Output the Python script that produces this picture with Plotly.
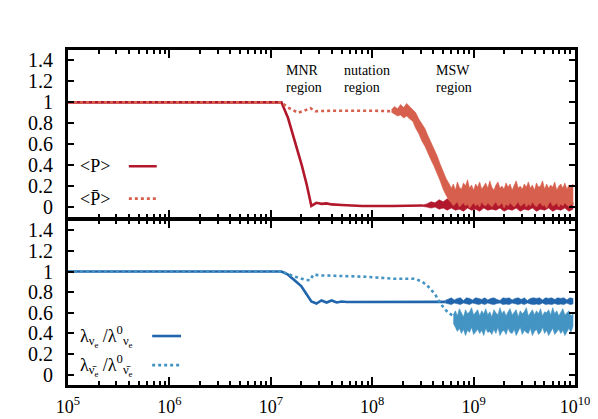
import plotly.graph_objects as go
from plotly.subplots import make_subplots

# x values are log10 of the abscissa
p_x = [5.0, 7.105, 7.17, 7.24, 7.305, 7.355, 7.40, 7.45, 7.50, 7.55, 7.60, 7.70, 7.90, 8.20, 8.50]
p_y = [1.0, 1.0, 0.85, 0.62, 0.40, 0.21, 0.01, 0.04, 0.03, 0.035, 0.025, 0.02, 0.01, 0.01, 0.015]

p_noise_x = [8.50, 8.54, 8.58, 8.62, 8.66, 8.70, 8.74, 8.78, 8.82, 8.86, 8.90, 8.94, 8.98,
             9.02, 9.06, 9.10, 9.14, 9.18, 9.22, 9.26, 9.30, 9.34, 9.38, 9.42, 9.46, 9.50,
             9.54, 9.58, 9.62, 9.66, 9.70, 9.74, 9.78, 9.82, 9.86, 9.90, 9.94, 9.98]
p_noise_hi = [0.02, 0.03, 0.05, 0.04, 0.07, 0.05, 0.08, 0.05, 0.07, 0.04, 0.06, 0.05, 0.07,
              0.04, 0.06, 0.05, 0.07, 0.04, 0.06, 0.05, 0.06, 0.04, 0.07, 0.05, 0.06, 0.04,
              0.06, 0.05, 0.07, 0.04, 0.06, 0.05, 0.06, 0.04, 0.07, 0.05, 0.06, 0.05]
p_noise_lo = [0.005, 0.0, -0.01, 0.0, -0.02, -0.01, -0.03, -0.01, -0.03, -0.02, -0.04, -0.01, -0.03,
              -0.02, -0.04, -0.01, -0.03, -0.02, -0.03, -0.01, -0.04, -0.02, -0.03, -0.01, -0.04, -0.02,
              -0.03, -0.01, -0.04, -0.02, -0.03, -0.01, -0.04, -0.02, -0.03, -0.01, -0.04, -0.02]

pbar_x = [5.0, 7.105, 7.17, 7.27, 7.33, 7.39, 7.44, 7.60, 8.00, 8.19]
pbar_y = [1.0, 1.0, 0.95, 0.90, 0.92, 0.945, 0.915, 0.92, 0.92, 0.915]

pbar_noise_x = [8.19, 8.22, 8.25, 8.28, 8.31, 8.34, 8.37, 8.40, 8.43, 8.46, 8.49, 8.52, 8.55,
                8.58, 8.61, 8.64, 8.67, 8.70, 8.73, 8.76,
                8.78, 8.80, 8.82, 8.84, 8.86, 8.88, 8.90, 8.92, 8.94, 8.96, 8.98, 9.00, 9.02,
                9.04, 9.06, 9.08, 9.10, 9.12, 9.14, 9.16, 9.18, 9.20, 9.22, 9.24, 9.26, 9.28,
                9.30, 9.32, 9.34, 9.36, 9.38, 9.40, 9.42, 9.44, 9.46, 9.48, 9.50, 9.52, 9.54,
                9.56, 9.58, 9.60, 9.62, 9.64, 9.66, 9.68, 9.70, 9.72, 9.74, 9.76, 9.78, 9.80,
                9.82, 9.84, 9.86, 9.88, 9.90, 9.92, 9.94, 9.96, 9.98]
pbar_noise_hi = [0.93, 0.96, 0.94, 0.98, 0.95, 0.99, 0.96, 0.93, 0.90, 0.84, 0.79, 0.75, 0.68,
                 0.62, 0.56, 0.49, 0.41, 0.34, 0.27, 0.22,
                 0.18, 0.22, 0.16, 0.24, 0.19, 0.17, 0.23, 0.20, 0.26, 0.18, 0.21, 0.16, 0.22,
                 0.19, 0.24, 0.17, 0.20, 0.23, 0.18, 0.25, 0.19, 0.16, 0.21, 0.24, 0.18, 0.20,
                 0.17, 0.23, 0.19, 0.22, 0.16, 0.21, 0.25, 0.18, 0.20, 0.17, 0.22, 0.19, 0.24,
                 0.18, 0.21, 0.16, 0.23, 0.19, 0.20, 0.25, 0.17, 0.22, 0.18, 0.21, 0.19, 0.24,
                 0.16, 0.20, 0.22, 0.18, 0.23, 0.17, 0.21, 0.19, 0.22]
pbar_noise_lo = [0.905, 0.89, 0.87, 0.88, 0.85, 0.87, 0.84, 0.82, 0.75, 0.70, 0.63, 0.58, 0.52,
                 0.45, 0.39, 0.33, 0.25, 0.17, 0.11, 0.06,
                 0.04, 0.01, 0.03, 0.05, 0.00, 0.02, 0.04, 0.01, 0.03, -0.01, 0.02, 0.04, 0.01,
                 0.03, 0.00, 0.05, 0.02, 0.01, 0.04, 0.02, 0.00, 0.03, 0.05, 0.01, 0.02, 0.04,
                 -0.01, 0.03, 0.01, 0.04, 0.02, 0.00, 0.03, 0.05, 0.01, 0.02, 0.04, 0.00, 0.03,
                 0.01, 0.05, 0.02, 0.00, 0.03, 0.04, 0.01, 0.02, -0.01, 0.03, 0.05, 0.01, 0.02,
                 0.04, 0.00, 0.03, 0.01, 0.04, 0.02, 0.00, 0.03, 0.02]

lam_x = [5.0, 7.105, 7.17, 7.24, 7.30, 7.34, 7.37, 7.40, 7.45, 7.50, 7.55, 7.60, 7.65,
         7.70, 7.75, 8.00, 8.72]
lam_y = [1.0, 1.0, 0.97, 0.915, 0.86, 0.80, 0.75, 0.71, 0.69, 0.72, 0.70, 0.72, 0.70,
         0.71, 0.705, 0.705, 0.706]

lam_noise_x = [8.72, 8.75, 8.78, 8.81, 8.84, 8.87, 8.90, 8.93, 8.96, 8.99, 9.02, 9.05, 9.08,
               9.11, 9.14, 9.17, 9.20, 9.23, 9.26, 9.29, 9.32, 9.35, 9.38, 9.41, 9.44, 9.47,
               9.50, 9.53, 9.56, 9.59, 9.62, 9.65, 9.68, 9.71, 9.74, 9.77, 9.80, 9.83, 9.86,
               9.89, 9.92, 9.95, 9.98]
lam_noise_hi = [0.72, 0.73, 0.745, 0.725, 0.74, 0.745, 0.72, 0.745, 0.74, 0.725, 0.745, 0.74, 0.73,
                0.745, 0.725, 0.74, 0.745, 0.73, 0.72, 0.745, 0.74, 0.745, 0.725, 0.74, 0.745, 0.73,
                0.745, 0.72, 0.74, 0.745, 0.74, 0.745, 0.725, 0.745, 0.74, 0.745, 0.73, 0.745, 0.74,
                0.745, 0.725, 0.745, 0.74]
lam_noise_lo = [0.695, 0.69, 0.68, 0.695, 0.685, 0.68, 0.695, 0.685, 0.68, 0.695, 0.685, 0.68, 0.69,
                0.68, 0.695, 0.685, 0.68, 0.69, 0.695, 0.68, 0.685, 0.68, 0.695, 0.685, 0.68, 0.69,
                0.68, 0.695, 0.685, 0.68, 0.685, 0.68, 0.695, 0.68, 0.685, 0.68, 0.69, 0.68, 0.685,
                0.68, 0.695, 0.68, 0.685]

lambar_x = [5.0, 7.105, 7.24, 7.34, 7.385, 7.42, 7.50, 7.93, 8.22, 8.41, 8.49, 8.55, 8.62,
            8.68, 8.75, 8.80]
lambar_y = [1.0, 1.0, 0.95, 0.92, 0.915, 0.97, 0.963, 0.95, 0.93, 0.93, 0.905, 0.857, 0.78,
            0.68, 0.60, 0.57]

lambar_noise_x = [8.80, 8.82, 8.84, 8.86, 8.88, 8.90, 8.92, 8.94, 8.96, 8.98, 9.00, 9.02, 9.04,
                  9.06, 9.08, 9.10, 9.12, 9.14, 9.16, 9.18, 9.20, 9.22, 9.24, 9.26, 9.28, 9.30,
                  9.32, 9.34, 9.36, 9.38, 9.40, 9.42, 9.44, 9.46, 9.48, 9.50, 9.52, 9.54, 9.56,
                  9.58, 9.60, 9.62, 9.64, 9.66, 9.68, 9.70, 9.72, 9.74, 9.76, 9.78, 9.80, 9.82,
                  9.84, 9.86, 9.88, 9.90, 9.92, 9.94, 9.96, 9.98]
lambar_noise_hi = [0.58, 0.62, 0.57, 0.64, 0.60, 0.56, 0.63, 0.59, 0.61, 0.65, 0.58, 0.60, 0.63,
                   0.57, 0.62, 0.59, 0.64, 0.58, 0.61, 0.56, 0.63, 0.60, 0.58, 0.65, 0.59, 0.62,
                   0.57, 0.61, 0.64, 0.58, 0.60, 0.63, 0.56, 0.62, 0.59, 0.61, 0.65, 0.57, 0.60,
                   0.63, 0.58, 0.62, 0.59, 0.64, 0.57, 0.61, 0.60, 0.63, 0.58, 0.65, 0.59, 0.62,
                   0.57, 0.61, 0.64, 0.58, 0.60, 0.62, 0.57, 0.59]
lambar_noise_lo = [0.50, 0.46, 0.42, 0.45, 0.40, 0.44, 0.38, 0.43, 0.41, 0.46, 0.39, 0.42, 0.44,
                   0.40, 0.43, 0.38, 0.45, 0.41, 0.42, 0.39, 0.44, 0.40, 0.46, 0.38, 0.42, 0.43,
                   0.39, 0.45, 0.41, 0.40, 0.44, 0.38, 0.42, 0.46, 0.39, 0.43, 0.41, 0.40, 0.45,
                   0.38, 0.42, 0.44, 0.39, 0.41, 0.46, 0.40, 0.43, 0.38, 0.42, 0.45, 0.39, 0.41,
                   0.44, 0.40, 0.43, 0.38, 0.42, 0.45, 0.41, 0.47]

decades = [5, 6, 7, 8, 9, 10]

region_x = [7.126, 7.707, 8.612]
region_top = ["MNR", "nutation", "MSW"]

dark_red = "#b2182b"
salmon = "#d6604d"
dark_blue = "#2166ac"
light_blue = "#4393c3"
font = "Liberation Serif"


def xv(exps):
    return [10 ** e for e in exps]


def band(xs, hi, lo, color, row):
    fig.add_trace(go.Scatter(
        x=xv(xs + xs[::-1]), y=hi + lo[::-1],
        fill="toself", fillcolor=color, mode="lines",
        line=dict(color=color, width=0.6), showlegend=False, hoverinfo="skip",
    ), row=row, col=1)


fig = make_subplots(rows=2, cols=1, shared_xaxes=True, vertical_spacing=0)

# top panel
fig.add_trace(go.Scatter(x=xv(p_x), y=p_y, mode="lines",
                         line=dict(color=dark_red, width=2.6), showlegend=False), row=1, col=1)
band(p_noise_x, p_noise_hi, p_noise_lo, dark_red, 1)
fig.add_trace(go.Scatter(x=xv(pbar_x), y=pbar_y, mode="lines",
                         line=dict(color=salmon, width=2.6, dash="dot"), showlegend=False), row=1, col=1)
band(pbar_noise_x, pbar_noise_hi, pbar_noise_lo, salmon, 1)

# bottom panel
fig.add_trace(go.Scatter(x=xv(lam_x), y=lam_y, mode="lines",
                         line=dict(color=dark_blue, width=2.6), showlegend=False), row=2, col=1)
band(lam_noise_x, lam_noise_hi, lam_noise_lo, dark_blue, 2)
fig.add_trace(go.Scatter(x=xv(lambar_x), y=lambar_y, mode="lines",
                         line=dict(color=light_blue, width=2.6, dash="dot"), showlegend=False), row=2, col=1)
band(lambar_noise_x, lambar_noise_hi, lambar_noise_lo, light_blue, 2)

minor_vals = [m * 10 ** d for d in decades[:-1] for m in range(2, 10)]

axis_common = dict(showline=True, linecolor="black", linewidth=3, mirror="ticks",
                   ticks="inside", tickcolor="black", tickwidth=2, showgrid=False,
                   zeroline=False, automargin=False)

fig.update_xaxes(type="log", range=[5, 10],
                 tickvals=[10 ** d for d in decades],
                 ticktext=[f"10<sup>{d}</sup>" for d in decades],
                 ticklen=8, ticklabelstandoff=3,
                 tickfont=dict(family=font, size=18, color="black"),
                 minor=dict(tickvals=minor_vals, ticks="inside", ticklen=4,
                            tickwidth=1.5, tickcolor="black", showgrid=False),
                 **axis_common)
fig.update_xaxes(showticklabels=False, row=1, col=1)
fig.update_yaxes(range=[-0.1, 1.5], dtick=0.2, tick0=0, ticklen=6,
                 ticklabelstandoff=8,
                 tickfont=dict(family=font, size=20, color="black"),
                 **axis_common)
# small gap so the two thick frame lines sit on top of each other
fig.update_yaxes(domain=[0.5, 1.0], row=1, col=1)
fig.update_yaxes(domain=[0.0, 0.4925], row=2, col=1)

# region labels, two single-line annotations each for tight line spacing
for xr, top in zip(region_x, region_top):
    for yy, txt in ((1.305, top), (1.14, "region")):
        fig.add_annotation(x=xr, y=yy, xref="x", yref="y", text=txt, showarrow=False,
                           xanchor="left", yanchor="middle",
                           font=dict(family=font, size=14, color="black"))

# legends (gnuplot style: label then sample)
legend_items = [
    ("x", "y", "&lt;P&gt;", 0.39, dark_red, "solid", 0.120, 0.175),
    ("x", "y", "&lt;P\u0304&gt;", 0.08, salmon, "dot", 0.120, 0.175),
    ("x2", "y2", "λ<sub>ν<sub>e</sub></sub> /λ<sup>0</sup><sub>ν<sub>e</sub></sub>", 0.375,
     dark_blue, "solid", 0.166, 0.223),
    ("x2", "y2", "λ<sub>ν\u0304<sub>e</sub></sub> /λ<sup>0</sup><sub>ν\u0304<sub>e</sub></sub>", 0.093,
     light_blue, "dot", 0.166, 0.223),
]
for xa, ya, txt, yy, col, dash, x0, x1 in legend_items:
    fig.add_annotation(x=0.02, y=yy, xref=f"{xa} domain", yref=ya, text=txt,
                       showarrow=False, xanchor="left", yanchor="middle",
                       font=dict(family=font, size=18, color="black"))
    fig.add_shape(type="line", x0=x0, x1=x1, y0=yy, y1=yy, xref=f"{xa} domain", yref=ya,
                  line=dict(color=col, width=2.6, dash=dash))

fig.update_layout(width=598, height=419, margin=dict(l=60, r=31, t=42, b=42),
                  font=dict(family=font, size=18, color="black"),
                  plot_bgcolor="white", paper_bgcolor="white", showlegend=False)

fig.write_html("out.html")
